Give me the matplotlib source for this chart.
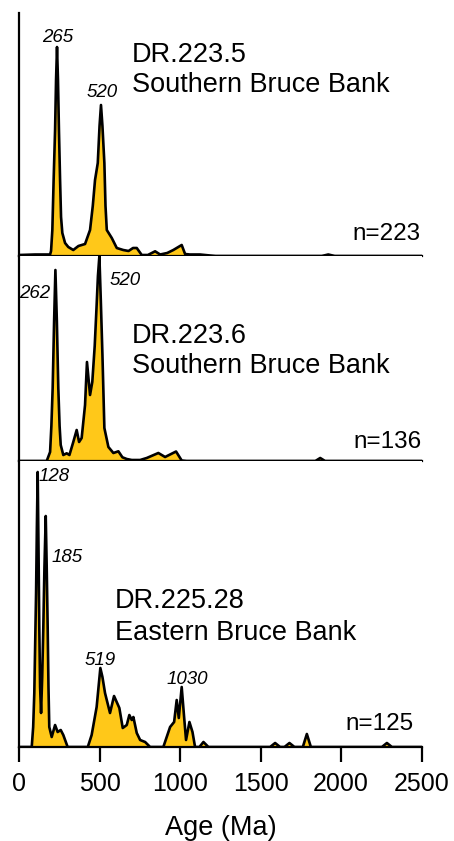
import matplotlib
matplotlib.use("Agg")
import matplotlib.pyplot as plt

plt.rcParams['font.family'] = ['Liberation Sans', 'DejaVu Sans']

FILL = '#FFC819'

# relative probability curves (arbitrary units)
ages_1 = [0, 100, 193, 199, 207, 215, 224, 230, 236, 242, 248, 255, 261, 269, 286,
          306, 337, 369, 410, 441, 458, 472, 489, 500, 509, 518, 530, 537, 545,
          576, 607, 647, 680, 708, 731, 762, 800, 845, 876, 920, 958, 1010, 1031,
          1060, 1124, 1186, 1220, 1880, 1920, 1960, 2500]
dens_1 = [1, 1.5, 1.5, 5, 26, 76, 126, 176, 209, 176, 126, 76, 39, 23, 13,
          9, 6, 10, 12, 26, 50, 76, 93, 130, 151, 130, 93, 50, 26,
          18, 8, 6, 5, 8, 8, 1, 1, 4.7, 1.5, 3, 6, 11, 2,
          1.5, 1.5, 0.5, 0, 0, 1.5, 0, 0]

ages_2 = [0, 172, 193, 201, 209, 218, 226, 235, 244, 252, 259, 275, 296, 313, 337,
          358, 373, 389, 410, 422, 441, 455, 470, 482, 490, 499, 508, 518, 530,
          555, 586, 617, 642, 669, 700, 752, 793, 865, 907, 975, 1010, 1040, 1840,
          1870, 1900, 2500]
dens_2 = [0, 0, 9, 35, 73, 140, 191, 140, 73, 35, 16, 6, 7.7, 6, 19,
          31, 19, 23, 56, 99, 66, 79, 115, 156, 185, 205, 160, 106, 33,
          14, 8, 9.7, 3.7, 2, 1, 1, 3, 8, 4, 9.5, 0.5, 0, 0,
          3, 0, 0]

ages_3 = [0, 79, 88, 95, 106, 111, 116, 121, 126, 131, 137, 144, 151, 158, 166, 172,
          178, 183, 188, 203, 224, 240, 259, 275, 302, 427, 451, 482, 505, 518,
          534, 565, 590, 623, 644, 669, 685, 700, 710, 731, 752, 783, 814, 896,
          938, 963, 979, 992, 1010, 1025, 1037, 1058, 1077, 1093, 1120, 1145, 1176,
          1559, 1590, 1621, 1648, 1679, 1710, 1762, 1787, 1812, 2253, 2284, 2315, 2500]
dens_3 = [0, 0, 20, 54, 154, 220, 275, 200, 120, 60, 34, 70, 120, 180, 231, 180,
          120, 60, 20, 10, 22, 15, 17, 12, 0, 0, 12, 40, 79, 70,
          54, 34, 51, 39, 19, 22, 32, 27, 30, 14, 7, 5, 0, 0,
          20, 25, 47, 29, 60, 30, 7, 25, 15, 0, 0, 5, 0,
          0, 4, 0, 0, 4, 0, 0, 13, 0, 0, 4, 0, 0]

samples = ['DR.223.5', 'DR.223.6', 'DR.225.28']
locations = ['Southern Bruce Bank', 'Southern Bruce Bank', 'Eastern Bruce Bank']
counts = [223, 136, 125]

# peak labels: (text, age position, height position)
peaks_1 = [('265', 242, 214), ('520', 516, 159)]
peaks_2 = [('262', 96, 163), ('520', 658, 176)]
peaks_3 = [('128', 124, 266), ('185', 298, 185), ('519', 503, 82), ('1030', 1043, 63)]

x_ticks = [0, 500, 1000, 1500, 2000, 2500]

W, H = 454, 841
fig = plt.figure(figsize=(W / 100, H / 100), dpi=100)

# panel boxes in pixels: (top, bottom)
panels = [(13, 256), (256, 461), (461, 747)]
left_px, right_px = 19, 421.7

data = [(ages_1, dens_1, peaks_1), (ages_2, dens_2, peaks_2), (ages_3, dens_3, peaks_3)]
# title placement (age, line1 h, line2 h) and n label (age, h)
title_pos = [(702, 194, 164), (702, 118, 88), (596, 139, 107)]
n_pos = [(2490, 16), (2500, 13), (2447, 17)]

for i, ((top, bot), (ages, dens, peaks)) in enumerate(zip(panels, data)):
    ax = fig.add_axes([left_px / W, 1 - bot / H, (right_px - left_px) / W, (bot - top) / H])
    ax.set_xlim(0, 2500)
    ax.set_ylim(0, bot - top)
    ax.fill_between(ages, dens, 0, color=FILL, lw=0, zorder=2)
    ax.plot(ages, dens, color='black', lw=1.9, solid_joinstyle='round', zorder=3)

    for s in ['top', 'right']:
        ax.spines[s].set_visible(False)
    for s in ['left', 'bottom']:
        ax.spines[s].set_linewidth(1.6)
        ax.spines[s].set_zorder(4)
    ax.set_yticks([])

    if i < 2:
        ax.set_xticks([])
    else:
        ax.set_xticks(x_ticks)
        ax.tick_params(axis='x', direction='out', length=11, width=1.6,
                       labelsize=18, pad=7)
        ax.set_xlabel('Age (Ma)', fontsize=19.5, labelpad=14)

    tx, h1, h2 = title_pos[i]
    ax.text(tx, h1, samples[i], fontsize=19.5, va='baseline', ha='left')
    ax.text(tx, h2, locations[i], fontsize=19.5, va='baseline', ha='left')
    nx, nh = n_pos[i]
    ax.text(nx, nh, f'n={counts[i]}', fontsize=17.5, va='baseline', ha='right')

    for label, px, ph in peaks:
        ha = 'left' if label == '128' else 'center'
        ax.text(px, ph, label, fontsize=13.5, style='italic', va='baseline', ha=ha)

fig.savefig('out.png', dpi=100, facecolor='white')
